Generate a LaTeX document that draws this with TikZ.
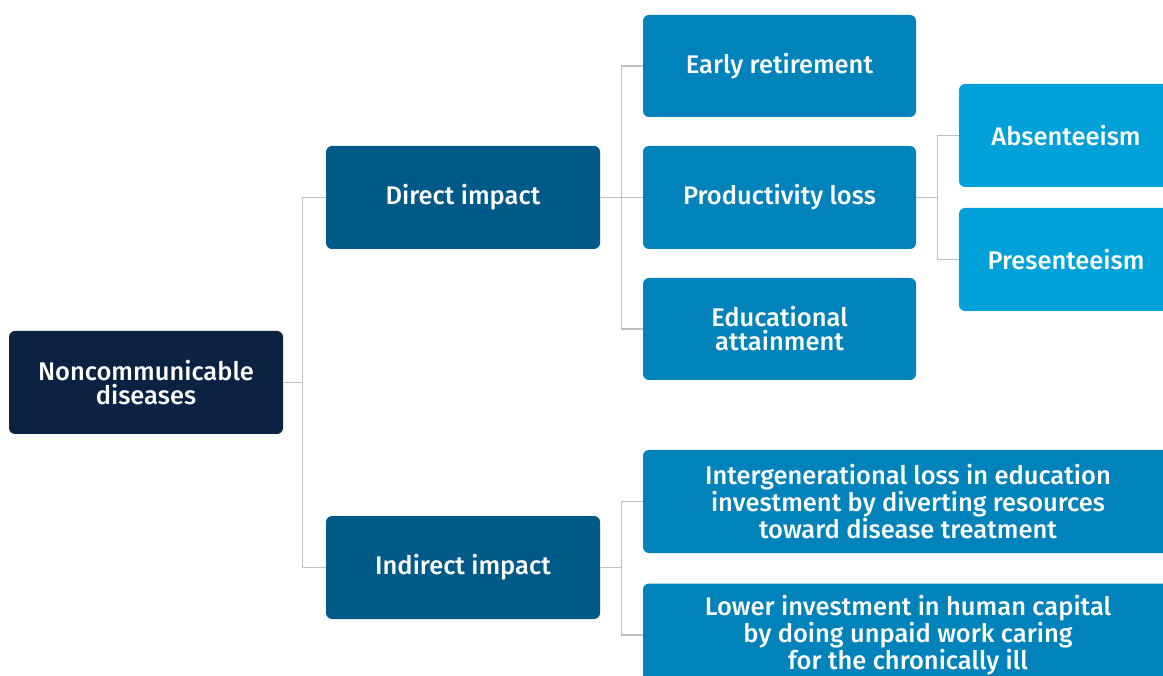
\documentclass[tikz,border=0pt]{standalone}
\usepackage{fontspec}
\setmainfont{Fira Sans}[BoldFont={Fira Sans Medium}]
\definecolor{navy}{RGB}{12,34,66}
\definecolor{deepblue}{RGB}{0,90,136}
\definecolor{midblue}{RGB}{0,130,187}
\definecolor{skyblue}{RGB}{0,160,216}
\definecolor{linegray}{RGB}{190,190,190}
\begin{document}
\begin{tikzpicture}[x=1pt,y=-1pt,
    box/.style={rounded corners=6pt,text=white,align=center,
      font=\fontsize{25.5}{24}\selectfont\bfseries,inner sep=0pt,
      minimum height=103pt},
    link/.style={draw=linegray,line width=1.4pt}]
      \useasboundingbox (0,0) rectangle (1163,676);
      \clip (0,0) rectangle (1163,676);

      \node[box,fill=navy,minimum width=274pt] at (146,382.5) (ncd) {Noncommunicable\\diseases};
      \node[box,fill=deepblue,minimum width=274pt] at (463,197.5) (direct) {Direct impact};
      \node[box,fill=deepblue,minimum width=274pt] at (463,567.5) (indirect) {Indirect impact};

      \node[box,fill=midblue,minimum width=273pt,minimum height=102pt] at (779.5,66) (early) {Early retirement};
      \node[box,fill=midblue,minimum width=273pt] at (779.5,197.5) (prod) {Productivity loss};
      \node[box,fill=midblue,minimum width=273pt,minimum height=102pt] at (779.5,329) (edu) {Educational\\attainment};

      \node[box,fill=skyblue,minimum width=214pt] at (1066,135.5) (absent) {Absenteeism};
      \node[box,fill=skyblue,minimum width=214pt] at (1066,259.5) (present) {Presenteeism};

      \node[box,fill=midblue,minimum width=530pt] at (908,501.5) (intergen) {Intergenerational loss in education\\investment by diverting resources\\toward disease treatment};
      \node[box,fill=midblue,minimum width=530pt] at (908,635) (lower) {Lower investment in human capital\\by doing unpaid work caring\\for the chronically ill};

      % draw edges
      \draw[link] (ncd.east) -- ++(19,0) |- (direct.west);
      \draw[link] (ncd.east) -- ++(19,0) |- (indirect.west);
      \draw[link] (direct.east) -- ++(21,0) |- (early.west);
      \draw[link] (direct.east) -- (prod.west);
      \draw[link] (direct.east) -- ++(21,0) |- (edu.west);
      \draw[link] (prod.east) -- ++(21,0) |- (absent.west);
      \draw[link] (prod.east) -- ++(21,0) |- (present.west);
      \draw[link] (indirect.east) -- ++(21,0) |- (intergen.west);
      \draw[link] (indirect.east) -- ++(21,0) |- (lower.west);
  \end{tikzpicture}
\end{document}
